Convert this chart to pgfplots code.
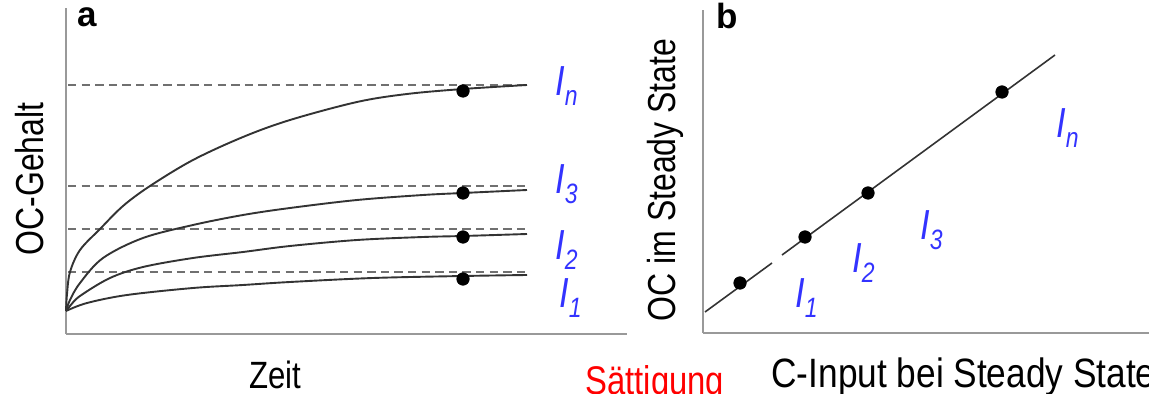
\documentclass[border=0pt]{standalone}
\usepackage{fontspec}
\setmainfont{Liberation Sans}[FakeStretch=0.82]
\newfontfamily\panelfont{Liberation Sans}
\newfontfamily\widerfont{Liberation Sans}[FakeStretch=0.86]
\usepackage{pgfplots}
\pgfplotsset{compat=1.18}
\definecolor{axisgray}{HTML}{999999}
\definecolor{curvegray}{HTML}{333333}
\definecolor{dashgray}{HTML}{707070}
\definecolor{labblue}{HTML}{3333FF}
\definecolor{satred}{HTML}{FF0000}
\newcommand\lab[1]{{\fontsize{21pt}{21pt}\selectfont\itshape\color{labblue}I\raisebox{-5pt}{\fontsize{14pt}{14pt}\selectfont #1}}}
\begin{document}
\begin{tikzpicture}
\useasboundingbox (0pt,0pt) rectangle (574.5pt,-197pt);
\pgfplotsset{
  panel/.style={scale only axis, anchor=south west, axis lines=left,
    axis line style={-, draw=axisgray, line width=1pt},
    xtick=\empty, ytick=\empty, clip=false},
  curve/.style={curvegray, line width=0.95pt, smooth, tension=0.55, no marks},
  dashl/.style={dashgray, line width=0.95pt, dash pattern=on 4.2pt off 2.6pt, no marks},
  dots/.style={only marks, mark=*, mark size=3.1pt, black}
}
% ---------------- panel a ----------------
\begin{axis}[panel, at={(33pt,-167pt)}, width=280.5pt, height=163pt,
  xmin=66, xmax=627, ymin=0, ymax=326]
\addplot[dashl] coordinates {(68,249) (527,249)};
\addplot[dashl] coordinates {(68,148) (527,148)};
\addplot[dashl] coordinates {(68,105) (527,105)};
\addplot[dashl] coordinates {(68,62) (527,62)};
\addplot[curve] coordinates {(66,23) (67,40) (70,62) (80,84) (100,105) (123,128) (150,148) (193,174) (243,197) (290,214) (357,232) (407,240) (463,245) (527,249)};
\addplot[curve] coordinates {(66,23) (70,34) (80,51) (103,76) (143,96) (193,109) (243,119) (290,126) (357,134) (423,139) (463,141) (527,144)};
\addplot[curve] coordinates {(66,23) (70,28) (80,38) (110,56) (143,67) (193,76) (243,82) (290,88) (357,94) (423,97) (463,98) (527,100)};
\addplot[curve] coordinates {(66,23) (87,31) (127,39) (193,46) (243,49) (290,52) (373,56) (463,58) (527,59)};
\addplot[dots] coordinates {(463,243) (463,141) (463,97) (463,55)};
\end{axis}
% ---------------- panel b ----------------
\begin{axis}[panel, at={(351.5pt,-166.5pt)}, width=223pt, height=161.5pt,
  xmin=703, xmax=1149, ymin=0, ymax=323]
\addplot[curvegray, line width=0.8pt, no marks] coordinates {(705,21) (772,70)};
\addplot[curvegray, line width=0.8pt, no marks] coordinates {(782,78) (1055,278)};
\addplot[dots] coordinates {(740,50) (805,96) (868,140) (1002,241)};
\end{axis}
% ---------------- texts ----------------
\begin{scope}[x=0.5pt, y=-0.5pt]
\node[anchor=base west, inner sep=0pt] at (77,27) {\panelfont\bfseries\fontsize{17.5pt}{17.5pt}\selectfont a};
\node[anchor=base west, inner sep=0pt] at (716,29) {\panelfont\bfseries\fontsize{17.5pt}{17.5pt}\selectfont b};
\node[anchor=base, inner sep=0pt, rotate=90] at (43,179) {\fontsize{19.5pt}{19.5pt}\selectfont OC-Gehalt};
\node[anchor=base, inner sep=0pt, rotate=90] at (675,180) {\fontsize{19.5pt}{19.5pt}\selectfont OC im Steady State};
\node[anchor=base, inner sep=0pt] at (275,388) {\fontsize{19pt}{19pt}\selectfont Zeit};
\node[anchor=base west, inner sep=0pt] at (771,387) {\widerfont\fontsize{20.5pt}{20.5pt}\selectfont C-Input bei Steady State};
\node[anchor=base west, inner sep=0pt] at (585,394) {\fontsize{20pt}{20pt}\selectfont\color{satred}Sättigung};
\node[anchor=base west, inner sep=0pt] at (555,96) {\lab{n}};
\node[anchor=base west, inner sep=0pt] at (555,194) {\lab{3}};
\node[anchor=base west, inner sep=0pt] at (555,260) {\lab{2}};
\node[anchor=base west, inner sep=0pt] at (559,308) {\lab{1}};
\node[anchor=base west, inner sep=0pt] at (795,308) {\lab{1}};
\node[anchor=base west, inner sep=0pt] at (852,273) {\lab{2}};
\node[anchor=base west, inner sep=0pt] at (920,240) {\lab{3}};
\node[anchor=base west, inner sep=0pt] at (1056,138) {\lab{n}};
\end{scope}
\end{tikzpicture}
\end{document}
